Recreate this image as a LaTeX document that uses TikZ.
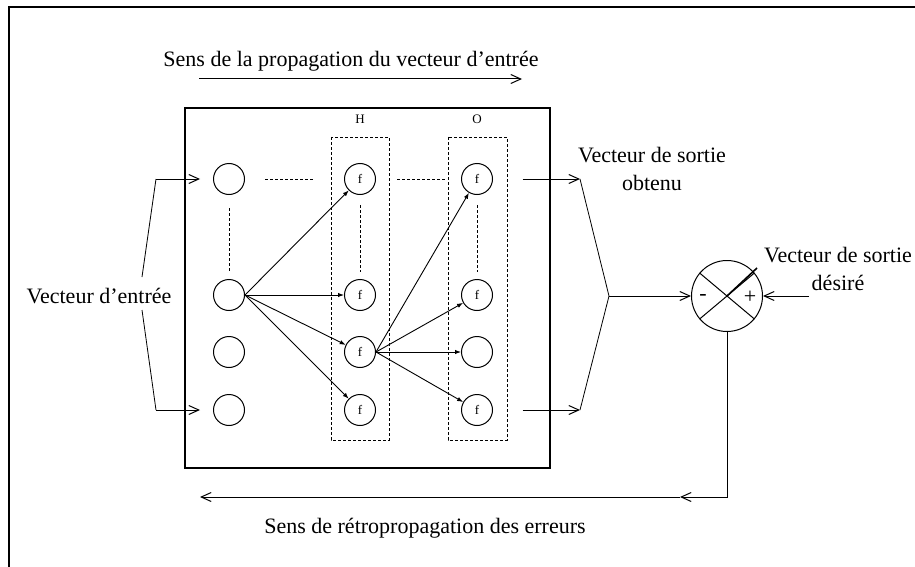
\documentclass[tikz,border=0pt]{standalone}
\usepackage{fontspec}
\setmainfont{Liberation Serif}
\usetikzlibrary{arrows.meta}
\usetikzlibrary{positioning}

\tikzset{
  neuron/.style={draw, circle, minimum size=15.5pt, inner sep=0pt, line width=0.5pt,
    font=\fontsize{6.5}{7}\selectfont},
  cmpnode/.style={draw, circle, minimum size=35.5pt, inner sep=0pt, line width=0.5pt},
  conn/.style={line width=0.45pt, -{Latex[length=3pt,width=2.2pt]}},
  flow/.style={line width=0.5pt, -{Straight Barb[length=5pt,width=4.5pt]}},
  dots/.style={line width=0.45pt, dash pattern=on 1.5pt off 1pt},
  layer/.style={line width=0.45pt, dash pattern=on 1.5pt off 1pt},
  small/.style={font=\fontsize{6.5}{7}\selectfont},
}

\begin{document}
\begin{tikzpicture}[x=0.5pt, y=-0.5pt, font=\fontsize{11}{14}\selectfont]
  \useasboundingbox (0,0) rectangle (915,567);
  % frame
  \draw[line width=0.75pt] (9,7) rectangle (1000,700);

  % network box
  \draw[line width=0.55pt] (185,108) rectangle (550,468);
  \draw[layer] (331,137) rectangle (389,440);
  \draw[layer] (448,137) rectangle (507,440);
  \node[small] (lh) at (360,119) {H};
  \node[small] (lo) at (477,119) {O};

  % neurons
  \foreach \n/\y in {1/179,2/295,3/352,4/410} {
    \node[neuron] (i\n) at (229,\y) {};
    \node[neuron] (h\n) at (360,\y) {f};
  }
  \node[neuron] (o1) at (477,179) {f};
  \node[neuron] (o2) at (477,295) {f};
  \node[neuron] (o3) at (477,352) {};
  \node[neuron] (o4) at (477,410) {f};

  \draw[dots] (265,179) -- (315,179);
  \draw[dots] (397,179) -- (447,179);
  \draw[dots] (229,208) -- (229,273);
  \draw[dots] (360,205) -- (360,272);
  \draw[dots] (477,205) -- (477,272);

  % connections
  \foreach \t in {1,...,4} {
    \draw[conn] (i2.east) -- (h\t);
    \draw[conn] (h3.east) -- (o\t);
  }

  % input vector
  \node (tin) at (99,296) {Vecteur d'entrée};
  \coordinate (b1) at (156,179);
  \coordinate (b2) at (142,277);
  \coordinate (b3) at (142,310);
  \coordinate (b4) at (156,410);
  \draw (b2) -- (b1);
  \draw (b3) -- (b4);
  \draw[flow] (b1) -- ([xshift=-6.5pt]i1.west);
  \draw[flow] (b4) -- ([xshift=-6.5pt]i4.west);

  % forward direction
  \node (ttop) at (351,61) {Sens de la propagation du vecteur d'entrée};
  \coordinate (fa) at (199,79);
  \coordinate (fb) at (522,79);
  \draw[flow] (fa) -- (fb);

  % comparator
  \node[cmpnode] (cmp) at (727,296) {};
  \draw[line width=0.5pt] (cmp.140) -- (cmp.-40);
  \draw[line width=0.5pt] (cmp.220) -- (cmp.40);
  \draw[line width=0.8pt] (cmp.center) -- ++(30,-28);
  \node[font=\fontsize{11}{12}\selectfont] (minus) at (703,297) {-};
  \node[font=\fontsize{11}{12}\selectfont] (plus) at (750,297) {+};

  % output vector
  \node[align=center] (tout) at (652,169) {Vecteur de sortie\\obtenu};
  \coordinate (s1) at (580,179);
  \coordinate (s4) at (580,410);
  \coordinate (sj) at (609,296);
  \draw[flow] ([xshift=14.75pt]o1.east) -- (s1);
  \draw[flow] ([xshift=14.75pt]o4.east) -- (s4);
  \draw (s1) -- (sj) -- (s4);
  \draw[flow] (sj) -- (cmp);

  % desired output
  \node[align=center] (tdes) at (838,269) {Vecteur de sortie\\désiré};
  \coordinate (dz) at (809,296);
  \draw[flow] (dz) -- (cmp);

  % backpropagation
  \coordinate (rc) at (727,497);
  \coordinate (rm) at (680,497);
  \coordinate (re) at (200,497);
  \draw[flow] (cmp.south) -- (rc) -- (rm);
  \draw[flow] (rm) -- (re);
  \node (tbot) at (425,528) {Sens de rétropropagation des erreurs};
\end{tikzpicture}
\end{document}
